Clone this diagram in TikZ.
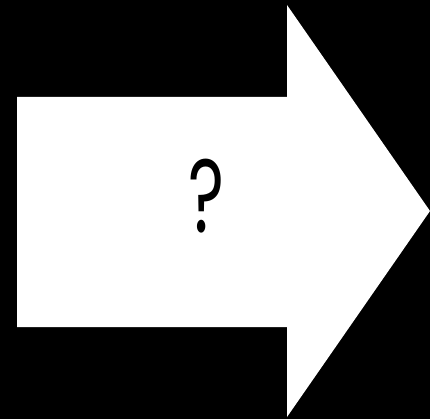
\documentclass[tikz,border=0pt]{standalone}
\usepackage{fontspec}
\newfontfamily\qfont{Poppins}
\begin{document}
\begin{tikzpicture}[x=1pt,y=-1pt,
  arrowshape/.style={fill=white,draw=none},
  qmark/.style={font=\qfont\fontsize{104}{104}\selectfont,text=black,inner sep=0pt,xscale=0.66}]
\fill[black] (0,0) rectangle (430,419);
\useasboundingbox (0,0) rectangle (430,419);
\fill[arrowshape] (17,97) -- (287,97) -- (287,5) -- (430,211) -- (287,417) -- (287,327) -- (17,327) -- cycle;
\node[qmark] (q) at (206,196) {?};
\end{tikzpicture}
\end{document}
